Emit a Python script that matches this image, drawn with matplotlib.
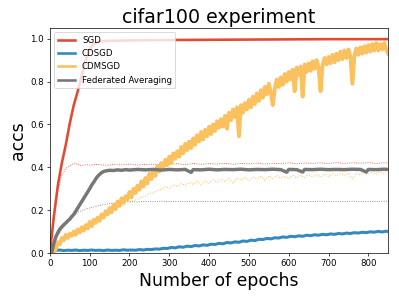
import matplotlib
matplotlib.use("Agg")
import matplotlib.pyplot as plt
import numpy as np

# ---------------- data ----------------
sgd_epochs = [0, 10, 20, 30, 40, 50, 60, 70, 80, 90, 100, 110, 120, 140, 170, 200, 300, 400, 500, 600, 700, 800, 850]
sgd_train = [0.0, 0.17, 0.315, 0.42, 0.505, 0.605, 0.69, 0.755, 0.83, 0.90, 0.95, 0.975, 0.985, 0.99, 0.991, 0.992, 0.994, 0.995, 0.996, 0.997, 0.998, 0.998, 0.998]

sgd_test_epochs = [0, 10, 20, 30, 40, 50, 60, 70, 80, 90, 100, 120, 140, 160, 180, 200, 220, 240, 260, 280, 300, 320, 340, 360, 380, 400, 420, 440, 460, 480, 500, 520, 540, 560, 580, 600, 620, 640, 660, 680, 700, 720, 740, 760, 780, 800, 820, 840, 850]
sgd_test = [0.0, 0.16, 0.29, 0.36, 0.395, 0.405, 0.42, 0.413, 0.408, 0.412, 0.41, 0.414, 0.409, 0.413, 0.411, 0.415, 0.41, 0.414, 0.412, 0.416, 0.413, 0.417, 0.412, 0.418, 0.414, 0.417, 0.415, 0.419, 0.414, 0.418, 0.416, 0.42, 0.415, 0.419, 0.417, 0.421, 0.416, 0.42, 0.418, 0.421, 0.417, 0.422, 0.418, 0.421, 0.419, 0.422, 0.418, 0.421, 0.42]

cdsgd_epochs = [15, 25, 35, 45, 55, 65, 75, 85, 95, 105, 115, 125, 135, 145, 155, 165, 175, 185, 195, 205, 215, 225, 235, 245, 255, 265, 275, 285, 295, 305, 315, 325, 335, 345, 355, 365, 375, 385, 395, 405, 415, 425, 435, 445, 455, 465, 475, 485, 495, 505, 515, 525, 535, 545, 555, 565, 575, 585, 595, 605, 615, 625, 635, 645, 655, 665, 675, 685, 695, 705, 715, 725, 735, 745, 755, 765, 775, 785, 795, 805, 815, 825, 835, 845, 850]
cdsgd_train = [0.012, 0.014, 0.011, 0.013, 0.012, 0.014, 0.011, 0.013, 0.012, 0.014, 0.012, 0.013, 0.011, 0.014, 0.012, 0.013, 0.012, 0.015, 0.013, 0.014, 0.013, 0.016, 0.014, 0.017, 0.016, 0.019, 0.018, 0.022, 0.021, 0.026, 0.024, 0.029, 0.027, 0.032, 0.030, 0.035, 0.033, 0.038, 0.036, 0.041, 0.040, 0.045, 0.043, 0.049, 0.047, 0.052, 0.050, 0.056, 0.054, 0.060, 0.058, 0.064, 0.063, 0.068, 0.066, 0.071, 0.070, 0.075, 0.073, 0.078, 0.076, 0.080, 0.078, 0.083, 0.081, 0.085, 0.083, 0.087, 0.085, 0.089, 0.087, 0.091, 0.089, 0.093, 0.091, 0.095, 0.093, 0.097, 0.095, 0.099, 0.097, 0.101, 0.098, 0.102, 0.099]

cdmsgd_epochs = list(range(10, 851, 5))
cdmsgd_train = [0.0, 0.02, 0.05, 0.04, 0.07, 0.06, 0.085, 0.07, 0.09, 0.08,
                0.10, 0.085, 0.11, 0.095, 0.12, 0.105, 0.13, 0.115, 0.145, 0.125,
                0.155, 0.14, 0.165, 0.15, 0.18, 0.165, 0.195, 0.18, 0.21, 0.19,
                0.225, 0.205, 0.24, 0.22, 0.255, 0.235, 0.265, 0.25, 0.285, 0.26,
                0.30, 0.28, 0.315, 0.295, 0.335, 0.31, 0.35, 0.325, 0.37, 0.345,
                0.385, 0.36, 0.405, 0.38, 0.42, 0.395, 0.435, 0.41, 0.45, 0.42,
                0.465, 0.44, 0.475, 0.45, 0.495, 0.465, 0.51, 0.48, 0.52, 0.49,
                0.535, 0.505, 0.55, 0.52, 0.565, 0.53, 0.575, 0.545, 0.59, 0.555,
                0.60, 0.57, 0.615, 0.585, 0.625, 0.59, 0.64, 0.58, 0.655, 0.62,
                0.67, 0.635, 0.68, 0.545, 0.69, 0.655, 0.70, 0.67, 0.715, 0.68,
                0.73, 0.695, 0.745, 0.71, 0.76, 0.725, 0.775, 0.74, 0.79, 0.75,
                0.69, 0.765, 0.81, 0.775, 0.82, 0.785, 0.835, 0.80, 0.845, 0.81,
                0.855, 0.755, 0.865, 0.83, 0.87, 0.73, 0.88, 0.845, 0.885, 0.85,
                0.895, 0.86, 0.90, 0.865, 0.755, 0.875, 0.91, 0.88, 0.915, 0.885,
                0.925, 0.89, 0.93, 0.90, 0.94, 0.905, 0.945, 0.91, 0.95, 0.915,
                0.79, 0.92, 0.955, 0.925, 0.96, 0.93, 0.965, 0.935, 0.97, 0.94,
                0.975, 0.945, 0.98, 0.945, 0.975, 0.95, 0.98, 0.95, 0.93]

cdmsgd_test_epochs = [15, 20, 30, 40, 50, 60, 70, 80, 90, 100, 110, 120, 130, 140, 150, 160, 170, 180, 190, 200, 210, 220, 230, 240, 250, 260, 270, 280, 290, 300, 310, 320, 330, 340, 350, 360, 370, 380, 390, 400, 410, 420, 430, 440, 450, 460, 470, 480, 490, 500, 510, 520, 530, 540, 550, 560, 570, 580, 590, 600, 610, 620, 630, 640, 650, 660, 670, 680, 690, 700, 710, 720, 730, 740, 750, 760, 770, 780, 790, 800, 810, 820, 830, 840, 850]
cdmsgd_test = [0.01, 0.04, 0.06, 0.075, 0.085, 0.095, 0.105, 0.115, 0.125, 0.135, 0.148, 0.16, 0.172, 0.185, 0.195, 0.205, 0.212, 0.22, 0.228, 0.235, 0.245, 0.25, 0.262, 0.265, 0.278, 0.28, 0.292, 0.295, 0.31, 0.302, 0.318, 0.31, 0.325, 0.315, 0.33, 0.32, 0.335, 0.318, 0.338, 0.325, 0.342, 0.33, 0.345, 0.335, 0.348, 0.325, 0.35, 0.34, 0.352, 0.338, 0.355, 0.345, 0.357, 0.34, 0.36, 0.348, 0.362, 0.35, 0.358, 0.347, 0.364, 0.35, 0.362, 0.352, 0.365, 0.355, 0.366, 0.355, 0.368, 0.357, 0.37, 0.36, 0.371, 0.362, 0.373, 0.345, 0.374, 0.365, 0.375, 0.366, 0.377, 0.368, 0.379, 0.37, 0.378]

fedavg_epochs = [0, 5, 10, 15, 20, 25, 30, 35, 40, 45, 50, 55, 60, 65, 70, 75, 80, 85, 90, 95, 100, 105, 110, 115, 120, 125, 130, 135, 140, 150, 160, 170, 180, 190, 200, 220, 240, 260, 280, 300, 320, 340, 355, 360, 380, 400, 420, 440, 460, 480, 500, 520, 540, 560, 580, 595, 600, 620, 635, 640, 660, 680, 700, 720, 740, 760, 780, 795, 800, 820, 840, 850]
fedavg_train = [0.0, 0.005, 0.045, 0.076, 0.095, 0.112, 0.122, 0.132, 0.14, 0.15, 0.158, 0.17, 0.18, 0.195, 0.21, 0.225, 0.24, 0.255, 0.27, 0.285, 0.30, 0.317, 0.33, 0.345, 0.358, 0.367, 0.375, 0.38, 0.383, 0.386, 0.385, 0.388, 0.386, 0.389, 0.387, 0.39, 0.388, 0.39, 0.387, 0.39, 0.388, 0.39, 0.376, 0.389, 0.388, 0.391, 0.388, 0.39, 0.389, 0.391, 0.388, 0.39, 0.389, 0.391, 0.389, 0.377, 0.39, 0.389, 0.378, 0.39, 0.389, 0.391, 0.389, 0.39, 0.389, 0.391, 0.39, 0.378, 0.39, 0.389, 0.391, 0.39]

fedavg_test_epochs = [0, 10, 20, 30, 40, 50, 60, 70, 80, 90, 100, 110, 120, 140, 160, 180, 200, 220, 240, 260, 280, 300, 320, 340, 360, 380, 400, 420, 440, 460, 480, 500, 520, 540, 560, 580, 600, 620, 640, 660, 680, 700, 720, 740, 760, 780, 800, 820, 840, 850]
fedavg_test = [0.0, 0.04, 0.08, 0.11, 0.135, 0.155, 0.175, 0.19, 0.198, 0.205, 0.21, 0.215, 0.22, 0.228, 0.233, 0.238, 0.24, 0.238, 0.241, 0.239, 0.242, 0.24, 0.241, 0.239, 0.242, 0.24, 0.241, 0.239, 0.242, 0.24, 0.241, 0.24, 0.242, 0.24, 0.241, 0.239, 0.242, 0.24, 0.241, 0.24, 0.242, 0.24, 0.241, 0.24, 0.242, 0.24, 0.241, 0.24, 0.242, 0.241]

series_labels = ["SGD", "CDSGD", "CDMSGD", "Federated Averaging"]
colors = ["#E24A33", "#348ABD", "#FBC15E", "#777777"]
x_ticks = [0, 100, 200, 300, 400, 500, 600, 700, 800]
y_ticks = [0.0, 0.2, 0.4, 0.6, 0.8, 1.0]

# ---------------- plot ----------------
dpi = 62.3
fig = plt.figure(figsize=(399 / dpi, 298 / dpi), dpi=dpi)
ax = fig.add_axes([0.125, 0.151, 0.848, 0.755])

# test curves (thin dotted)
ax.plot(sgd_test_epochs, sgd_test, ':', color=colors[0], lw=1.0)
ax.plot(cdmsgd_test_epochs, cdmsgd_test, ':', color=colors[2], lw=1.2)
ax.plot(fedavg_test_epochs, fedavg_test, ':', color=colors[3], lw=1.0)

# train curves (thick)
ax.plot(sgd_epochs, sgd_train, color=colors[0], lw=3, label=series_labels[0])
ax.plot(cdsgd_epochs, cdsgd_train, color=colors[1], lw=3.5, label=series_labels[1])
ax.plot(cdmsgd_epochs, cdmsgd_train, color=colors[2], lw=4.5, label=series_labels[2])
ax.plot(fedavg_epochs, fedavg_train, color=colors[3], lw=4, label=series_labels[3])

ax.set_xlim(0, 850)
ax.set_ylim(0, 1.05)
ax.set_xticks(x_ticks)
ax.set_yticks(y_ticks)
ax.tick_params(labelsize=10)
ax.set_title("cifar100 experiment", fontsize=22)
ax.set_xlabel("Number of epochs", fontsize=20)
ax.set_ylabel("accs", fontsize=20)
leg = ax.legend(loc="upper left", fontsize=10)
for h in leg.get_lines():
    h.set_linewidth(3)

fig.savefig("out.png", dpi=dpi)
